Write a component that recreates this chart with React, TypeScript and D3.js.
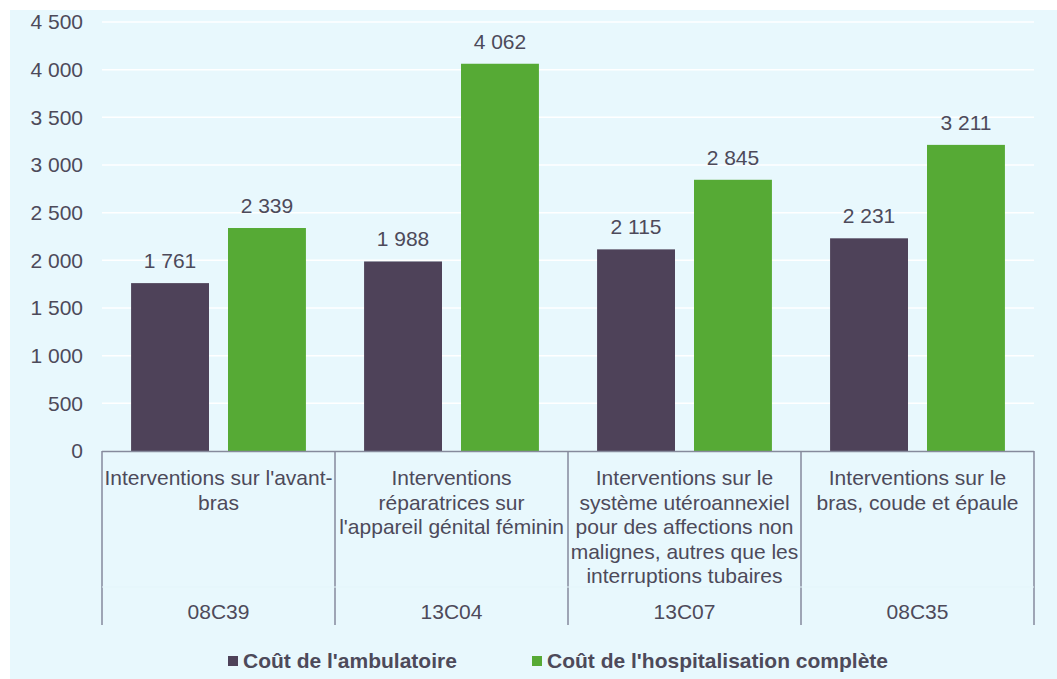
import React, { useEffect, useRef } from "react";
import * as d3 from "d3";

const codes = ["08C39", "13C04", "13C07", "08C35"];
const labels = [
  ["Interventions sur l'avant-", "bras"],
  ["Interventions", "réparatrices sur", "l'appareil génital féminin"],
  ["Interventions sur le", "système utéroannexiel", "pour des affections non", "malignes, autres que les", "interruptions tubaires"],
  ["Interventions sur le", "bras, coude et épaule"],
];
const series = ["Coût de l'ambulatoire", "Coût de l'hospitalisation complète"];
const ambulatoire = [1761, 1988, 2115, 2231];
const hospitalisation = [2339, 4062, 2845, 3211];
const yTicks = [0, 500, 1000, 1500, 2000, 2500, 3000, 3500, 4000, 4500];

const colors = ["#4e4259", "#56aa35"];
const textColor = "#4d4a5a";
const font = "'Liberation Sans', Arial, sans-serif";

const fmt = (v: number) => d3.format(",")(v).replace(/,/g, " ");

const App = () => {
  const ref = useRef<SVGSVGElement>(null);
  const width = 1057;
  const height = 679;
  const margin = { top: 22, right: 23, bottom: 228, left: 102 };

  useEffect(() => {
    drawChart();
  }, []);

  function drawChart() {
    const root = d3.select(ref.current);
    root.selectAll("*").remove();

    // background
    root
      .append("rect")
      .attr("x", 10)
      .attr("y", 10)
      .attr("width", width - 10)
      .attr("height", height - 10)
      .attr("fill", "#e8f8fd");

    const innerW = width - margin.left - margin.right;
    const innerH = height - margin.top - margin.bottom;

    const svg = root
      .append("g")
      .attr("transform", `translate(${margin.left}, ${margin.top})`)
      .style("font-family", font);

    const x = d3.scaleBand().domain(codes).range([0, innerW]).padding(0);
    const xSub = d3
      .scaleBand()
      .domain(series)
      .range([0, x.bandwidth()])
      .paddingInner(0.196)
      .paddingOuter(0.3);
    const y = d3.scaleLinear().domain([0, 4500]).range([innerH, 0]);

    // gridlines
    svg
      .selectAll(".grid")
      .data(yTicks.filter((t) => t > 0))
      .enter()
      .append("line")
      .attr("x1", 0)
      .attr("x2", innerW)
      .attr("y1", (d) => y(d))
      .attr("y2", (d) => y(d))
      .attr("stroke", "#ffffff")
      .attr("stroke-width", 1.5);

    // y tick labels
    svg
      .selectAll(".ytick")
      .data(yTicks)
      .enter()
      .append("text")
      .attr("x", -19)
      .attr("y", (d) => y(d))
      .attr("dy", "0.35em")
      .attr("text-anchor", "end")
      .attr("fill", textColor)
      .style("font-size", "21px")
      .text((d) => fmt(d));

    // bars
    const values = [ambulatoire, hospitalisation];
    series.forEach((s, si) => {
      const g = svg.append("g");
      g.selectAll("rect")
        .data(codes)
        .enter()
        .append("rect")
        .attr("x", (c) => x(c)! + xSub(s)!)
        .attr("y", (c, i) => y(values[si][i]))
        .attr("width", xSub.bandwidth())
        .attr("height", (c, i) => innerH - y(values[si][i]))
        .attr("fill", colors[si]);
      g.selectAll("text")
        .data(codes)
        .enter()
        .append("text")
        .attr("x", (c) => x(c)! + xSub(s)! + xSub.bandwidth() / 2)
        .attr("y", (c, i) => y(values[si][i]) - 15)
        .attr("text-anchor", "middle")
        .attr("fill", textColor)
        .style("font-size", "21px")
        .text((c, i) => fmt(values[si][i]));
    });

    // category axis
    const axisColor = "#868a9c";
    svg
      .append("line")
      .attr("x1", 0)
      .attr("x2", innerW)
      .attr("y1", innerH + 0.5)
      .attr("y2", innerH + 0.5)
      .attr("stroke", axisColor)
      .attr("stroke-width", 1.5);
    const bounds = codes.map((c) => x(c)!).concat([innerW]);
    svg
      .selectAll(".sep")
      .data(bounds)
      .enter()
      .append("line")
      .attr("x1", (d) => d)
      .attr("x2", (d) => d)
      .attr("y1", innerH)
      .attr("y2", innerH + 174)
      .attr("stroke", axisColor)
      .attr("stroke-width", 1.5);
    svg
      .append("line")
      .attr("x1", 0)
      .attr("x2", innerW)
      .attr("y1", innerH + 136)
      .attr("y2", innerH + 136)
      .attr("stroke", "#e4f5fa")
      .attr("stroke-width", 1);

    codes.forEach((c, i) => {
      const cx = x(c)! + x.bandwidth() / 2;
      const t = svg
        .append("text")
        .attr("text-anchor", "middle")
        .attr("fill", textColor)
        .style("font-size", "21px");
      labels[i].forEach((line, li) => {
        t.append("tspan")
          .attr("x", cx)
          .attr("y", innerH + 34 + li * 24.6)
          .text(line);
      });
      svg
        .append("text")
        .attr("x", cx)
        .attr("y", innerH + 168)
        .attr("text-anchor", "middle")
        .attr("fill", textColor)
        .style("font-size", "21px")
        .text(c);
    });

    // legend
    const legend = root.append("g").style("font-family", font);
    const legendX = [228, 532];
    series.forEach((s, si) => {
      legend
        .append("rect")
        .attr("x", legendX[si])
        .attr("y", 656)
        .attr("width", 10)
        .attr("height", 10)
        .attr("fill", colors[si]);
      legend
        .append("text")
        .attr("x", legendX[si] + 15)
        .attr("y", 668)
        .attr("fill", textColor)
        .style("font-size", "21px")
        .style("font-weight", "bold")
        .text(s);
    });
  }

  return (
    <div style={{ position: "absolute", left: 0, top: 0 }}>
      <svg ref={ref} width={width} height={height} style={{ display: "block" }} />
    </div>
  );
};

export default App;
